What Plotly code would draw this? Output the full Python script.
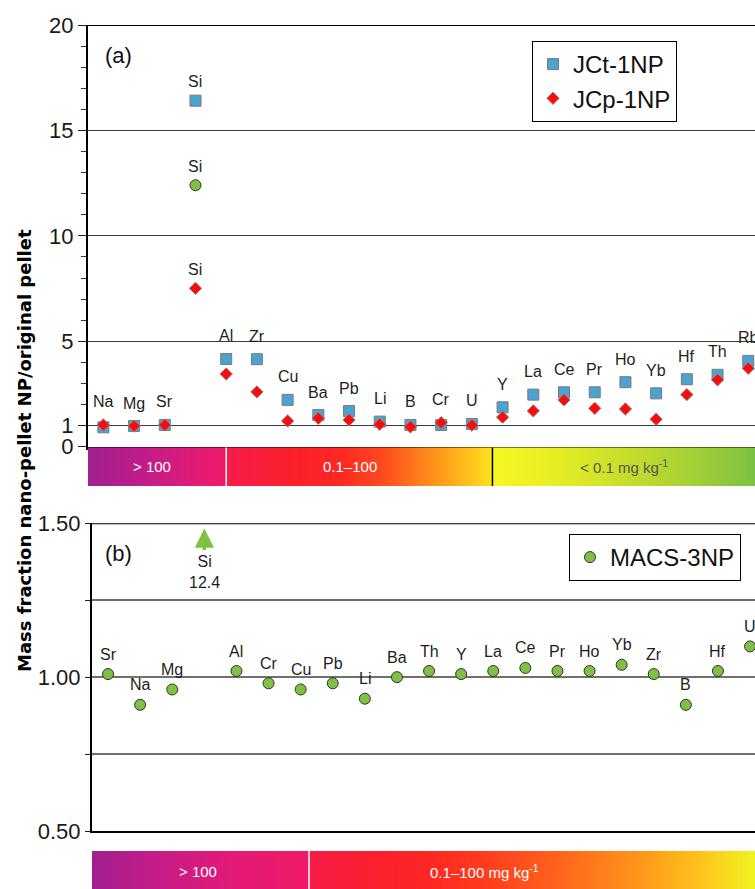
import numpy as np
import plotly.graph_objects as go

W, H = 755, 889

# ---------------- data ----------------
elements_a = ["Na", "Mg", "Sr", "Si", "Al", "Zr", "Cu", "Ba", "Pb", "Li", "B",
              "Cr", "U", "Y", "La", "Ce", "Pr", "Ho", "Yb", "Hf", "Th", "Rb"]
jct_1np = [0.92, 0.98, 1.03, 16.41, 4.16, 4.15, 2.22, 1.50, 1.69, 1.19, 1.03,
           1.03, 1.08, 1.87, 2.47, 2.58, 2.58, 3.06, 2.53, 3.20, 3.41, 4.07]
jcp_1np = [1.03, 0.98, 1.03, 7.51, 3.45, 2.60, 1.22, 1.35, 1.27, 1.06, 0.94,
           1.14, 1.02, 1.40, 1.70, 2.22, 1.82, 1.79, 1.30, 2.47, 3.17, 3.72]

elements_b = ["Sr", "Na", "Mg", "Si", "Al", "Cr", "Cu", "Pb", "Li", "Ba", "Th",
              "Y", "La", "Ce", "Pr", "Ho", "Yb", "Zr", "B", "Hf", "U"]
macs_3np = [1.01, 0.91, 0.96, 12.4, 1.02, 0.98, 0.96, 0.98, 0.93, 1.00, 1.02,
            1.01, 1.02, 1.03, 1.02, 1.02, 1.04, 1.01, 0.91, 1.02, 1.10]

yticks_a = [0, 1, 5, 10, 15, 20]
yticks_b = [0.5, 0.75, 1.0, 1.25, 1.5]
yticktext_b = ["0.50", "", "1.00", "", "1.50"]

# ---------------- styling ----------------
FONT = "Liberation Sans, Arial, sans-serif"
BLUE = "#4ba3cf"
RED = "#ff0a0a"
GREEN = "#7dc242"

xa = list(range(len(elements_a)))
xb = list(range(len(elements_b)))
si_a = elements_a.index("Si")
si_b = elements_b.index("Si")
macs_si = macs_3np[si_b]


def px(p):  # page pixel (from left) -> paper x
    return p / W


def py(p):  # page pixel (from top) -> paper y
    return (H - p) / H


XR_A = [-0.5, -0.5 + (W - 88) / 30.71]
XR_B = [-0.5, -0.5 + (W - 92) / 32.1]
YR_B = [0.5, 1.5]

fig = go.Figure()

# Panel (a) markers
fig.add_trace(go.Scatter(x=xa, y=jct_1np, mode="markers", name="JCt-1NP",
                         marker=dict(symbol="square", size=11, color=BLUE,
                                     line=dict(color="#7a7a7a", width=1)),
                         xaxis="x", yaxis="y", legend="legend", cliponaxis=False))
fig.add_trace(go.Scatter(x=xa, y=jcp_1np, mode="markers", name="JCp-1NP",
                         marker=dict(symbol="diamond", size=9.5, color=RED,
                                     line=dict(color="#8a8a8a", width=1)),
                         xaxis="x", yaxis="y", legend="legend", cliponaxis=False))
fig.add_trace(go.Scatter(x=[si_a], y=[macs_si], mode="markers", showlegend=False,
                         marker=dict(symbol="circle", size=11, color=GREEN,
                                     line=dict(color="#333333", width=1)),
                         xaxis="x", yaxis="y"))

# Panel (b) markers (values inside the axis range)
bx = [x for x, v in zip(xb, macs_3np) if YR_B[0] <= v <= YR_B[1]]
bv = [v for v in macs_3np if YR_B[0] <= v <= YR_B[1]]
fig.add_trace(go.Scatter(x=bx, y=bv, mode="markers", name="MACS-3NP",
                         marker=dict(symbol="circle", size=11, color=GREEN,
                                     line=dict(color="#333333", width=1)),
                         xaxis="x2", yaxis="y2", legend="legend2", cliponaxis=False))


# Colour bars (heatmaps)
def grad(xr, stops_px, left_px):
    span = W - left_px
    cs = [[min(1.0, (p - left_px) / span), c] for p, c in stops_px]
    xs = np.linspace(xr[0], xr[1], 500)
    return xs, cs


xs_a, cs_a = grad(XR_A, [
    (88, "#a21f8f"), (150, "#c51c88"), (200, "#e41a76"), (225, "#ef1a66"),
    (227, "#f61c4a"), (260, "#f91e3a"), (300, "#fc2129"), (340, "#ff2822"),
    (380, "#ff461e"), (410, "#ff701b"), (440, "#ff9a1a"), (470, "#ffc21c"),
    (491, "#fde11f"), (494, "#f4f722"), (540, "#ecf022"), (590, "#d8e626"),
    (640, "#c0da2c"), (700, "#a0ce36"), (755, "#7cc242")], 88)
fig.add_trace(go.Heatmap(x=xs_a, y=[0, 1], z=[xs_a, xs_a], colorscale=cs_a,
                         zmin=XR_A[0], zmax=XR_A[1], showscale=False,
                         hoverinfo="skip", xaxis="x", yaxis="y3"))

xs_b, cs_b = grad(XR_B, [
    (92, "#a21f8f"), (160, "#c71c87"), (230, "#e21a78"), (308, "#ef1a66"),
    (310, "#f71c48"), (360, "#fb1f34"), (420, "#ff2424"), (480, "#ff3a1f"),
    (560, "#ff641c"), (640, "#ff961a"), (700, "#ffc21c"), (755, "#eef320")], 92)
fig.add_trace(go.Heatmap(x=xs_b, y=[0, 1], z=[xs_b, xs_b], colorscale=cs_b,
                         zmin=XR_B[0], zmax=XR_B[1], showscale=False,
                         hoverinfo="skip", xaxis="x2", yaxis="y4"))

# ---------------- annotations ----------------
ann = []
lab_font = dict(family=FONT, size=16, color="#1e1e1e")
for i, el in enumerate(elements_a):
    if i == si_a:
        for v in (jct_1np[i], macs_si, jcp_1np[i]):
            ann.append(dict(x=i, y=v, xref="x", yref="y", text=el, showarrow=False,
                            yshift=19, yanchor="middle", font=lab_font))
    else:
        ann.append(dict(x=i, y=max(jct_1np[i], jcp_1np[i]), xref="x", yref="y",
                        text=el, showarrow=False, yshift=23, yanchor="middle",
                        font=lab_font))
for i, el in enumerate(elements_b):
    if i == si_b:
        continue
    ann.append(dict(x=i, y=macs_3np[i], xref="x2", yref="y2", text=el,
                    showarrow=False, yshift=20, yanchor="middle", font=lab_font))

# Si off-scale arrow in (b)
ann.append(dict(x=si_b, y=1.483, xref="x2", yref="y2", text="", showarrow=True,
                ax=0, ay=23, arrowhead=2, arrowsize=1.1, arrowwidth=3.5,
                arrowcolor=GREEN))
ann.append(dict(x=si_b, y=1.342, xref="x2", yref="y2", yanchor="middle",
                text=f"Si<br>{macs_si:.1f}", showarrow=False, font=lab_font))


def paper_text(x, y, text, font, **kw):
    d = dict(x=px(x), y=py(y), xref="paper", yref="paper", text=text,
             showarrow=False, xanchor="center", yanchor="middle", font=font)
    d.update(kw)
    return d


tag_font = dict(family=FONT, size=22, color="#111")
ann.append(paper_text(103, 55, "(a)", tag_font, xanchor="left"))
ann.append(paper_text(103, 553, "(b)", tag_font, xanchor="left"))

# y title
ann.append(paper_text(24, 451, "<b>Mass fraction nano-pellet NP/original pellet</b>",
                      dict(family="DejaVu Sans", size=18, color="#000"), textangle=-90))

# colour bar texts
bar_font_w = dict(family=FONT, size=15, color="white")
ann.append(paper_text(152, 466, "> 100", bar_font_w))
ann.append(paper_text(350, 466, "0.1–100", bar_font_w))
ann.append(paper_text(624, 466, "< 0.1 mg kg<sup>-1</sup>",
                      dict(family=FONT, size=15, color="#555555")))
ann.append(paper_text(198, 871, "> 100", bar_font_w))
ann.append(paper_text(485, 871, "0.1–100 mg kg<sup>-1</sup>", bar_font_w))

# ---------------- shapes ----------------
shapes = [
    dict(type="line", xref="x domain", yref="y", x0=0, x1=1, y0=20, y1=20,
         line=dict(color="black", width=2)),
    dict(type="line", xref="x2 domain", yref="y2", x0=0, x1=1, y0=1.5, y1=1.5,
         line=dict(color="black", width=2)),
    dict(type="line", xref="x", yref="y3 domain", x0=4.0, x1=4.0, y0=0, y1=1,
         line=dict(color="white", width=1.5)),
    dict(type="line", xref="x", yref="y3 domain", x0=12.67, x1=12.67, y0=0, y1=1,
         line=dict(color="black", width=1.5)),
    dict(type="line", xref="x2", yref="y4 domain", x0=6.26, x1=6.26, y0=0, y1=1,
         line=dict(color="white", width=1.5)),
]

tickfont = dict(family=FONT, size=22, color="#1a1a1a")

fig.update_layout(
    width=W, height=H, margin=dict(l=0, r=0, t=0, b=0, pad=0, autoexpand=False),
    paper_bgcolor="white", plot_bgcolor="rgba(0,0,0,0)",
    showlegend=True,
    xaxis=dict(domain=[px(88), 1], range=XR_A, anchor="y", showticklabels=False,
               ticks="", showgrid=False, zeroline=False, showline=True,
               linecolor="black", linewidth=2.5, automargin=False),
    yaxis=dict(domain=[py(446.7), py(25)], range=[0, 20], anchor="x",
               tickmode="array", tickvals=yticks_a, ticks="outside", ticklen=8,
               tickwidth=1.2, tickcolor="#222", tickfont=tickfont,
               showgrid=True, gridcolor="#3c3c3c", gridwidth=1.2, zeroline=False,
               showline=True, linecolor="black", linewidth=2, automargin=False,
               minor=dict(tickmode="linear", tick0=0, dtick=1, ticks="outside",
                          ticklen=5, tickwidth=1, tickcolor="#333", showgrid=False)),
    xaxis2=dict(domain=[px(92), 1], range=XR_B, anchor="y2", showticklabels=False,
                ticks="", showgrid=False, zeroline=False, showline=True,
                linecolor="black", linewidth=2, automargin=False),
    yaxis2=dict(domain=[py(831), py(523.3)], range=YR_B, anchor="x2",
                tickmode="array", tickvals=yticks_b, ticktext=yticktext_b,
                ticks="outside", ticklen=5, tickwidth=1.2, tickcolor="#222",
                tickfont=tickfont, showgrid=True, gridcolor="#707070", gridwidth=1.5,
                zeroline=False, showline=True, linecolor="black", linewidth=2,
                automargin=False),
    yaxis3=dict(domain=[py(486), py(447.5)], range=[0, 1], anchor="x", visible=False,
                automargin=False),
    yaxis4=dict(domain=[0, py(851)], range=[0, 1], anchor="x2",
                visible=False, automargin=False),
    legend=dict(x=px(532), y=py(41), xanchor="left", yanchor="top",
                bordercolor="black", borderwidth=1, bgcolor="white",
                font=dict(family=FONT, size=24, color="#111"), tracegroupgap=0),
    legend2=dict(x=px(569), y=py(534), xanchor="left", yanchor="top",
                 bordercolor="black", borderwidth=1, bgcolor="white",
                 font=dict(family=FONT, size=24, color="#111")),
    annotations=ann,
    shapes=shapes,
)

fig.write_html("out.html",
               config={"displayModeBar": False},
               post_script="document.body.style.margin='0px';"
                           "document.body.style.overflow='hidden';")
